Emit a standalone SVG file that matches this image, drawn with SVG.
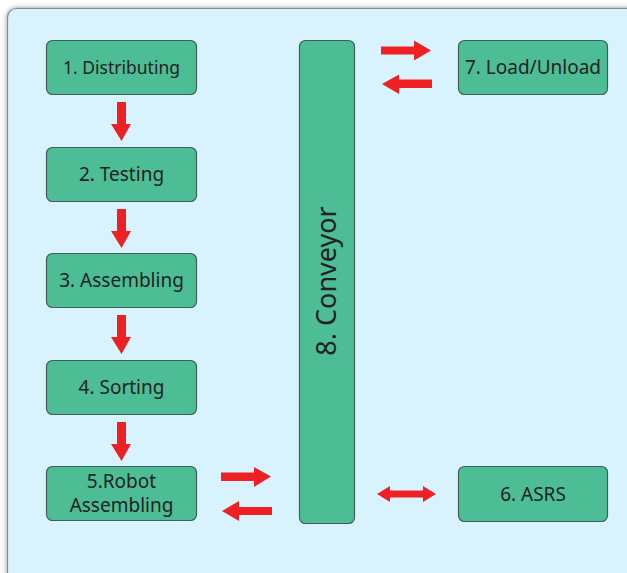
<svg xmlns="http://www.w3.org/2000/svg" width="627" height="573" viewBox="0 0 627 573">
<defs>
<style>
.node rect{fill:#4dbd96;stroke:#3f5f58;stroke-width:1.2}
.node text{font-family:"Noto Sans","Open Sans",sans-serif;font-size:19px;fill:#222;text-anchor:middle}
.arr{fill:#ee2024}
</style>
<filter id="sh" x="-5%" y="-5%" width="110%" height="110%">
<feDropShadow dx="0" dy="0" stdDeviation="2.5" flood-color="#000" flood-opacity="0.45"/>
</filter>
</defs>
<rect x="0" y="0" width="627" height="573" fill="#ffffff"/>
<rect x="7.5" y="8.5" width="640" height="590" rx="9" fill="#d8f3fd" stroke="#8a8a8a" stroke-width="1.2" filter="url(#sh)"/>
<g id="n1" class="node"><rect x="46.5" y="40.5" width="150" height="54" rx="6"/><text x="121.5" y="74" style="font-size:17.5px">1. Distributing</text></g>
<g id="n2" class="node"><rect x="46.5" y="147.5" width="150" height="54" rx="6"/><text x="121.5" y="180.5">2. Testing</text></g>
<g id="n3" class="node"><rect x="46.5" y="253.5" width="150" height="54" rx="6"/><text x="121.5" y="287">3. Assembling</text></g>
<g id="n4" class="node"><rect x="46.5" y="360.5" width="150" height="54" rx="6"/><text x="121.5" y="393.5">4. Sorting</text></g>
<g id="n5" class="node"><rect x="46.5" y="466.5" width="150" height="54" rx="6"/><text x="121.5" y="488">5.Robot</text><text x="121.5" y="512">Assembling</text></g>
<g id="n8" class="node"><rect x="299.5" y="40.5" width="55" height="483" rx="6"/><text transform="translate(336,281) rotate(-90)" style="font-size:27px">8. Conveyor</text></g>
<g id="n7" class="node"><rect x="458.5" y="40.5" width="149" height="54" rx="6"/><text x="533" y="73.5">7. Load/Unload</text></g>
<g id="n6" class="node"><rect x="458.5" y="466.5" width="149" height="55" rx="6"/><text x="533" y="500.5">6. ASRS</text></g>
<g id="connectors" class="arr">
<polygon points="117,102 126,102 126,124 131,124 121.5,141 111,124 117,124"/>
<polygon points="117,209 126,209 126,231 131,231 121.5,248 111,231 117,231"/>
<polygon points="117,315 126,315 126,337 131,337 121.5,354 111,337 117,337"/>
<polygon points="117,422 126,422 126,444 131,444 121.5,461 111,444 117,444"/>
<polygon points="381,46.5 414,46.5 414,40.5 431,50.5 414,60.5 414,54.5 381,54.5"/>
<polygon points="432,79.5 399,79.5 399,74.5 382,84 399,94 399,88 432,88"/>
<polygon points="221,472.5 254,472.5 254,467 271,476.5 254,487 254,481 221,481"/>
<polygon points="272,507 239,507 239,501 222,511 239,521 239,515 272,515"/>
<polygon points="377,494 390,486 390,490.5 423,490.5 423,486 436,494 423,502 423,497.5 390,497.5 390,502"/>
</g>
</svg>
